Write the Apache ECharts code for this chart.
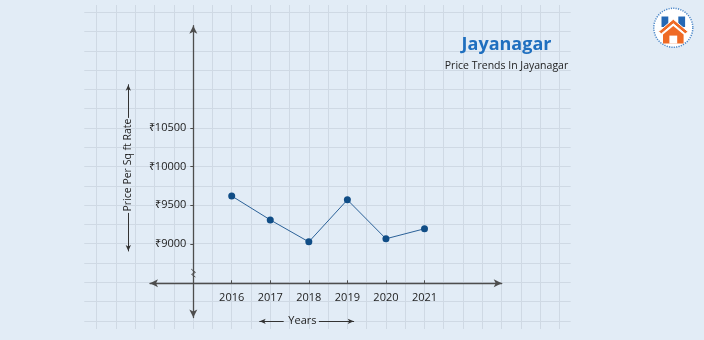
<!DOCTYPE html>
<html>
<head>
<meta charset="utf-8">
<script src="https://cdn.jsdelivr.net/npm/echarts@6/dist/echarts.min.js"></script>
<style>
  html, body { margin: 0; padding: 0; background: #e2ecf6; }
  #chart { width: 704px; height: 340px; }
</style>
</head>
<body>
<div id="chart"></div>
<script>
// ---- data ----
const years = [2016, 2017, 2018, 2019, 2020, 2021];
const prices = [9620, 9310, 9025, 9570, 9065, 9195];
const priceTicks = [9000, 9500, 10000, 10500];
const chartTitle = 'Jayanagar';
const chartSubtitle = 'Price Trends In Jayanagar';
const xAxisName = 'Years';
const yAxisName = 'Price Per Sq ft Rate';

// ---- geometry (px) ----
const CELL = 19.28;                 // one square of the background grid
const PX_PER_YEAR = 2 * CELL;
const PX_PER_500 = 2 * CELL;
const X_FIRST = 231.7;              // x of the first year tick
const Y_BASE = 243.8;               // y of the 9000 tick
const GRID_X0 = 96.7, GRID_Y0 = 12.3;
const BG = { left: 84.3, top: 5, right: 570.7, bottom: 329 };
const PLOT = { left: 150, top: 25.7, right: 501.7, bottom: 317.5 };
const Y_AXIS_X = 193.3, X_AXIS_Y = 283.3;

const FONT = 'Open Sans';
const AXIS_COLOR = '#4d4d4d';
const TEXT_COLOR = '#222';

const yearAt = px => years[0] + (px - X_FIRST) / PX_PER_YEAR;
const priceAt = py => priceTicks[0] + (Y_BASE - py) / PX_PER_500 * 500;

const range = n => Array.from({ length: n + 1 }, (_, i) => i);

const chart = echarts.init(document.getElementById('chart'), null, { renderer: 'canvas' });

const hiddenAxis = gi => ({ gridIndex: gi, show: false, type: 'value', min: 0, max: 1 });
const arrowLine = (sym) => ({
  show: true, onZero: false, symbol: sym, symbolSize: [4, 6],
  lineStyle: { color: '#333', width: 1 }
});

chart.setOption({
  backgroundColor: '#e2ecf6',
  animation: false,
  title: {
    text: chartTitle,
    subtext: chartSubtitle,
    left: 506.5, top: 35.5, padding: 0, itemGap: 7,
    textAlign: 'center',
    textStyle: { fontFamily: FONT, fontSize: 18, fontWeight: 'bold', color: '#1f6fbf' },
    subtextStyle: { fontFamily: FONT, fontSize: 10.5, color: '#222' }
  },
  grid: [
    // background squares
    { left: BG.left, top: BG.top, width: BG.right - BG.left, height: BG.bottom - BG.top },
    // plot
    { left: PLOT.left, top: PLOT.top, width: PLOT.right - PLOT.left, height: PLOT.bottom - PLOT.top },
    // "Years" arrows
    { left: 259.7, top: 300, width: 23.6, height: 21.3 },
    { left: 319.3, top: 300, width: 34.4, height: 21.3 },
    // y title arrows
    { left: 128.3, top: 84.7, width: 10, height: 32.8 },
    { left: 128.3, top: 213.3, width: 10, height: 37.7 }
  ],
  xAxis: [
    {
      gridIndex: 0, type: 'value',
      min: -(GRID_X0 - BG.left) / CELL, max: (BG.right - GRID_X0) / CELL,
      axisLine: { show: false }, axisLabel: { show: false },
      axisTick: { show: false, customValues: range(24) },
      splitLine: { show: true, lineStyle: { color: '#cfd9e4', width: 1 } }
    },
    {
      gridIndex: 1, type: 'value',
      min: yearAt(PLOT.left), max: yearAt(PLOT.right),
      offset: -(PLOT.bottom - X_AXIS_Y),
      axisLine: {
        show: true, onZero: false, symbol: ['arrow', 'arrow'], symbolSize: [6, 8],
        lineStyle: { color: AXIS_COLOR, width: 1.3 }
      },
      axisTick: { show: true, inside: true, length: 3, customValues: years, lineStyle: { color: AXIS_COLOR } },
      axisLabel: {
        customValues: years, margin: 9, fontFamily: FONT, fontSize: 11, color: TEXT_COLOR,
        formatter: v => String(v)
      },
      splitLine: { show: false }
    },
    {
      gridIndex: 2, type: 'value', min: 0, max: 1,
      axisLine: arrowLine(['arrow', 'none']),
      axisTick: { show: false }, axisLabel: { show: false }, splitLine: { show: false },
      name: xAxisName, nameLocation: 'end', nameGap: 5,
      nameTextStyle: { fontFamily: FONT, fontSize: 11, color: TEXT_COLOR }
    },
    {
      gridIndex: 3, type: 'value', min: 0, max: 1,
      axisLine: arrowLine(['none', 'arrow']),
      axisTick: { show: false }, axisLabel: { show: false }, splitLine: { show: false }
    },
    hiddenAxis(4),
    hiddenAxis(5)
  ],
  yAxis: [
    {
      gridIndex: 0, type: 'value', inverse: true,
      min: -(GRID_Y0 - BG.top) / CELL, max: (BG.bottom - GRID_Y0) / CELL,
      axisLine: { show: false }, axisLabel: { show: false },
      axisTick: { show: false, customValues: range(16) },
      splitLine: { show: true, lineStyle: { color: '#cfd9e4', width: 1 } }
    },
    {
      gridIndex: 1, type: 'value',
      min: priceAt(PLOT.bottom), max: priceAt(PLOT.top),
      offset: -(Y_AXIS_X - PLOT.left),
      axisLine: {
        show: true, onZero: false, symbol: ['arrow', 'arrow'], symbolSize: [6, 8],
        lineStyle: { color: AXIS_COLOR, width: 1.3 }
      },
      axisTick: { show: true, length: 3, customValues: priceTicks, lineStyle: { color: AXIS_COLOR } },
      axisLabel: {
        customValues: priceTicks, margin: 7, fontFamily: FONT, fontSize: 11, color: TEXT_COLOR,
        formatter: v => '₹' + v
      },
      splitLine: { show: false }
    },
    hiddenAxis(2),
    hiddenAxis(3),
    {
      gridIndex: 4, type: 'value', min: 0, max: 1,
      axisLine: arrowLine(['none', 'arrow']),
      axisTick: { show: false }, axisLabel: { show: false }, splitLine: { show: false }
    },
    {
      gridIndex: 5, type: 'value', min: 0, max: 1,
      axisLine: arrowLine(['arrow', 'none']),
      axisTick: { show: false }, axisLabel: { show: false }, splitLine: { show: false },
      name: yAxisName, nameLocation: 'end', nameRotate: 90, nameGap: 1.8,
      nameTextStyle: { fontFamily: FONT, fontSize: 10.5, color: TEXT_COLOR }
    }
  ],
  series: [
    {
      type: 'line', xAxisIndex: 1, yAxisIndex: 1, z: 5,
      data: years.map((y, i) => [y, prices[i]]),
      symbol: 'circle', symbolSize: 7,
      lineStyle: { color: '#2b6198', width: 1 },
      itemStyle: { color: '#104d86' }
    }
  ],
  graphic: [
    // axis break mark
    {
      type: 'polyline', z: 10,
      shape: { points: [[191.3, 269.2], [195.4, 272.4], [191.6, 274.4], [195.4, 277]] },
      style: { stroke: AXIS_COLOR, lineWidth: 1, fill: null }
    },
    // logo
    {
      type: 'group', z: 10,
      children: [
        { type: 'circle', shape: { cx: 673.3, cy: 27.8, r: 19.5 },
          style: { fill: '#ffffff', stroke: '#4a86c8', lineWidth: 1.5, lineDash: [1.2, 1.2] } },
        { type: 'polygon', shape: { points: [[661.5, 16.5], [668.3, 16.5], [668.3, 27], [661.5, 27]] },
          style: { fill: '#2468b5' } },
        { type: 'polygon', shape: { points: [[678.3, 16.5], [685.1, 16.5], [685.1, 27], [678.3, 27]] },
          style: { fill: '#2468b5' } },
        { type: 'polygon', shape: { points: [[673.3, 19.2], [688.2, 31.8], [685.2, 33.8], [673.3, 23.8], [661.4, 33.8], [658.4, 31.8]] },
          style: { fill: '#ef6a25', stroke: '#ffffff', lineWidth: 1 } },
        { type: 'polygon', shape: { points: [[673.3, 26], [683.6, 34.6], [683.6, 43.6], [663, 43.6], [663, 34.6]] },
          style: { fill: '#ef6a25' } },
        { type: 'rect', shape: { x: 669.4, y: 35.6, width: 7.8, height: 8 },
          style: { fill: '#ffffff' } }
      ]
    }
  ]
});
</script>
</body>
</html>
